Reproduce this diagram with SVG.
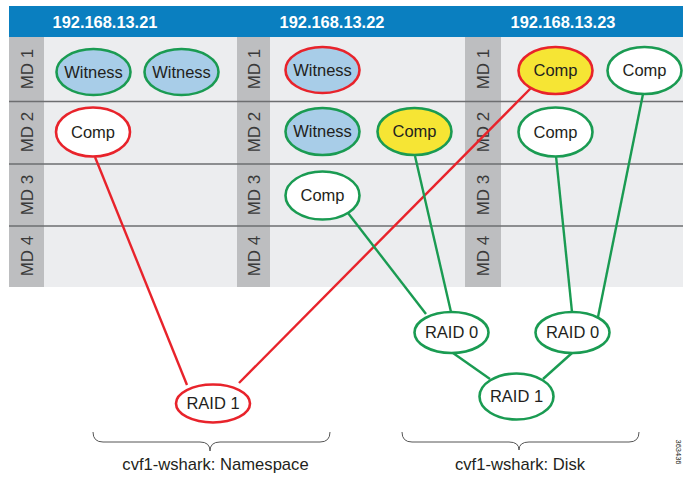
<svg xmlns="http://www.w3.org/2000/svg" width="683" height="477" viewBox="0 0 683 477">
<style>
text{font-family:"Liberation Sans",Arial,sans-serif;}
.hdr{fill:#ffffff;font-size:16.4px;font-weight:bold;text-anchor:middle;}
.md{fill:#3a3a3a;font-size:17px;text-anchor:middle;}
.lbl{fill:#231f20;font-size:16.5px;text-anchor:middle;}
.cap{fill:#231f20;font-size:16.6px;text-anchor:middle;}
.g{stroke:#1a9b52;stroke-width:2.6;}
.r{stroke:#e8232b;stroke-width:2.6;}
.wit{fill:#a8cde8;}
.cmp{fill:#ffffff;}
.yel{fill:#f6e534;}
.ln{fill:none;stroke-width:2.4;}
.row{stroke:#6d6e70;stroke-width:1.4;}
.brace{fill:none;stroke:#555;stroke-width:1;}
</style>
<rect x="0" y="0" width="683" height="477" fill="#ffffff"/>
<g id="panel">
<rect x="9" y="6" width="674" height="31" fill="#0a7fc0"/>
<rect x="9" y="37" width="674" height="250" fill="#ecedef"/>
<rect x="9" y="37" width="35" height="250" fill="#bdbec0"/>
<rect x="237" y="37" width="33" height="250" fill="#bdbec0"/>
<rect x="465" y="37" width="36" height="250" fill="#bdbec0"/>
<line class="row" x1="9" y1="101.5" x2="683" y2="101.5"/>
<line class="row" x1="9" y1="164" x2="683" y2="164"/>
<line class="row" x1="9" y1="226" x2="683" y2="226"/>
<text class="hdr" x="105" y="27.5">192.168.13.21</text>
<text class="hdr" x="332" y="27.5">192.168.13.22</text>
<text class="hdr" x="563" y="27.5">192.168.13.23</text>
<text class="md" transform="translate(32.5,69) rotate(-90)">MD 1</text>
<text class="md" transform="translate(32.5,132) rotate(-90)">MD 2</text>
<text class="md" transform="translate(32.5,195) rotate(-90)">MD 3</text>
<text class="md" transform="translate(32.5,256) rotate(-90)">MD 4</text>
<text class="md" transform="translate(259.5,69) rotate(-90)">MD 1</text>
<text class="md" transform="translate(259.5,132) rotate(-90)">MD 2</text>
<text class="md" transform="translate(259.5,195) rotate(-90)">MD 3</text>
<text class="md" transform="translate(259.5,256) rotate(-90)">MD 4</text>
<text class="md" transform="translate(489,69) rotate(-90)">MD 1</text>
<text class="md" transform="translate(489,132) rotate(-90)">MD 2</text>
<text class="md" transform="translate(489,195) rotate(-90)">MD 3</text>
<text class="md" transform="translate(489,256) rotate(-90)">MD 4</text>
</g>
<g id="connectors">
<line class="ln r" x1="95" y1="157" x2="187" y2="385"/>
<line class="ln r" x1="239" y1="383" x2="531" y2="88"/>
<line class="ln g" x1="348" y1="213" x2="426" y2="314"/>
<line class="ln g" x1="415" y1="156" x2="451" y2="312"/>
<line class="ln g" x1="556" y1="156" x2="572" y2="312"/>
<line class="ln g" x1="643" y1="94" x2="598" y2="317"/>
<line class="ln g" x1="453" y1="353" x2="490" y2="379"/>
<line class="ln g" x1="572" y1="353" x2="543" y2="379"/>
</g>
<g id="n1-witness-a"><ellipse class="g wit" cx="93.5" cy="72" rx="37" ry="23"/><text class="lbl" x="93.5" y="77.5">Witness</text></g>
<g id="n1-witness-b"><ellipse class="g wit" cx="181.5" cy="72" rx="37" ry="23"/><text class="lbl" x="181.5" y="77.5">Witness</text></g>
<g id="n1-comp"><ellipse class="r cmp" cx="93" cy="132" rx="37" ry="24.5"/><text class="lbl" x="93" y="137.5">Comp</text></g>
<g id="n2-witness-a"><ellipse class="r wit" cx="322.5" cy="70" rx="37" ry="23"/><text class="lbl" x="322.5" y="75.5">Witness</text></g>
<g id="n2-witness-b"><ellipse class="g wit" cx="322.5" cy="131.5" rx="37" ry="23.5"/><text class="lbl" x="322.5" y="137">Witness</text></g>
<g id="n2-comp-yellow"><ellipse class="g yel" cx="414.5" cy="131.5" rx="37" ry="23.5"/><text class="lbl" x="414.5" y="137">Comp</text></g>
<g id="n2-comp"><ellipse class="g cmp" cx="322.5" cy="195.5" rx="37" ry="24"/><text class="lbl" x="322.5" y="201">Comp</text></g>
<g id="n3-comp-yellow"><ellipse class="r yel" cx="555.5" cy="70.5" rx="37" ry="23.5"/><text class="lbl" x="555.5" y="76">Comp</text></g>
<g id="n3-comp-a"><ellipse class="g cmp" cx="644.5" cy="70.5" rx="37" ry="23.5"/><text class="lbl" x="644.5" y="76">Comp</text></g>
<g id="n3-comp-b"><ellipse class="g cmp" cx="555.5" cy="132" rx="37" ry="24.5"/><text class="lbl" x="555.5" y="137.5">Comp</text></g>
<g id="raid1-ns"><ellipse class="r cmp" cx="213" cy="403.5" rx="37" ry="19"/><text class="lbl" x="213" y="409">RAID 1</text></g>
<g id="raid0-a"><ellipse class="g cmp" cx="451.5" cy="332.5" rx="37" ry="20.5"/><text class="lbl" x="451.5" y="338">RAID 0</text></g>
<g id="raid0-b"><ellipse class="g cmp" cx="572.5" cy="332.5" rx="37" ry="20.5"/><text class="lbl" x="572.5" y="338">RAID 0</text></g>
<g id="raid1-disk"><ellipse class="g cmp" cx="516.5" cy="396.5" rx="37" ry="23"/><text class="lbl" x="516.5" y="402">RAID 1</text></g>
<g id="brace-ns">
<path class="brace" d="M93,432 Q93,442 103,442 L200,442 Q210,442 210,451 Q210,442 220,442 L320,442 Q330,442 330,432"/>
<text class="cap" x="215.5" y="470">cvf1-wshark: Namespace</text>
</g>
<g id="brace-disk">
<path class="brace" d="M402,432 Q402,442 412,442 L509,442 Q519,442 519,450 Q519,442 529,442 L629,442 Q639,442 639,432"/>
<text class="cap" x="520" y="470">cvf1-wshark: Disk</text>
</g>
<text x="676" y="452" font-size="7.5" fill="#231f20" text-anchor="middle" transform="rotate(90 676 452)" style="font-family:'Liberation Sans',Arial,sans-serif">363436</text>
</svg>
